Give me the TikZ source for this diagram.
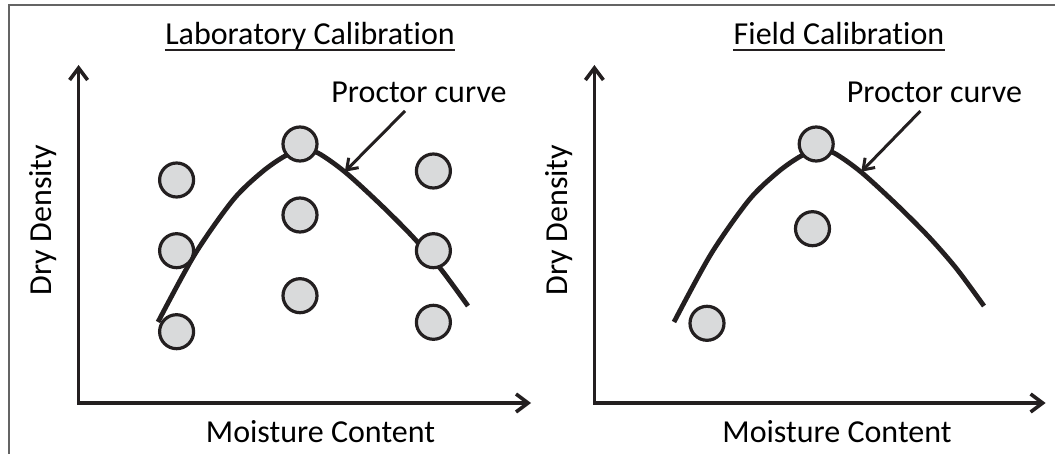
\documentclass[tikz,border=0pt]{standalone}
\usepackage{fontspec}
\setmainfont{Carlito}[Ligatures=NoCommon]
\usepackage{tikz}
\usetikzlibrary{arrows.meta}
\definecolor{pcdark}{RGB}{35,31,32}
\definecolor{pcgrey}{RGB}{217,218,219}
\definecolor{pcframe}{RGB}{100,100,100}
\tikzstyle{frame} = [line width=1pt, color=pcframe]
\tikzstyle{txt} = [inner sep=0pt, font=\fontsize{16}{18}\selectfont, text=black]
\tikzstyle{uline} = [line width=1.1pt, color=pcdark]
\tikzstyle{axis} = [line width=1.8pt, color=pcdark, arrows={Straight Barb[length=6pt,width=9pt]-Straight Barb[length=6pt,width=9pt]}]
\tikzstyle{proctor} = [line width=2.4pt, color=pcdark]
\tikzstyle{pointer} = [line width=1.5pt, color=pcdark, arrows={-Straight Barb[length=5pt,width=7pt]}]
\tikzstyle{soilpt} = [circle, draw=pcdark, line width=1.6pt, fill=pcgrey, minimum size=17pt, inner sep=0pt]

\begin{document}
\begin{tikzpicture}[x=0.5pt, y=-0.5pt]
\useasboundingbox (0,0) rectangle (1055,454);

% Frame
\draw[frame] (9,454) -- (9,5) -- (1055,5);

% Laboratory calibration
\node (labtitle) [txt, anchor=base] at (310,45) {Laboratory Calibration};
\draw[uline] ([yshift=-2.5pt]labtitle.base west) -- ([yshift=-2.5pt]labtitle.base east);

\coordinate (labo) at (78.6,403);
\coordinate (labytip) at (78.6,65);
\coordinate (labxtip) at (531,403);
\draw[axis] (labytip) -- (labo) -- (labxtip);

\node (labylab) [txt, rotate=90, anchor=base] at (51,220) {Dry Density};
\node (labxlab) [txt, anchor=base] at (320.5,442) {Moisture Content};

\draw[proctor] plot[smooth] coordinates {(158,322) (195,254) (233,200) (262,172) (285,156) (302,150) (318,153) (345,172) (380,204) (412,236) (440,268) (468,306)};

\node (lab1) [soilpt] at (176.6,180) {};
\node (lab2) [soilpt] at (176.6,250.7) {};
\node (lab3) [soilpt] at (176.6,331.7) {};
\node (lab4) [soilpt] at (300,144) {};
\node (lab5) [soilpt] at (300,215) {};
\node (lab6) [soilpt] at (300,295.7) {};
\node (lab7) [soilpt] at (433.4,171) {};
\node (lab8) [soilpt] at (433.4,250.7) {};
\node (lab9) [soilpt] at (433.4,322.3) {};

\node (labpc) [txt, anchor=base] at (419,103) {Proctor curve};
\coordinate (labhit) at (344.8,171.7);
\draw[pointer] ([xshift=-7pt,yshift=-4pt]labpc.base) -- (labhit);

% Field calibration
\node (fldtitle) [txt, anchor=base] at (839,45) {Field Calibration};
\draw[uline] ([yshift=-2.5pt]fldtitle.base west) -- ([yshift=-2.5pt]fldtitle.base east);

\coordinate (fldo) at (594.4,403);
\coordinate (fldytip) at (594.4,65);
\coordinate (fldxtip) at (1045.6,403);
\draw[axis] (fldytip) -- (fldo) -- (fldxtip);

\node (fldylab) [txt, rotate=90, anchor=base] at (567.5,220) {Dry Density};
\node (fldxlab) [txt, anchor=base] at (837,442) {Moisture Content};

\draw[proctor] plot[smooth] coordinates {(674,322) (711,254) (749,200) (778,172) (801,156) (818,150) (834,153) (861,172) (896,204) (928,236) (956,268) (984,306)};

\node (fld1) [soilpt] at (816.2,144) {};
\node (fld2) [soilpt] at (812.5,228.7) {};
\node (fld3) [soilpt] at (707,323.3) {};

\node (fldpc) [txt, anchor=base] at (934.4,103) {Proctor curve};
\coordinate (fldhit) at (861.3,171.7);
\draw[pointer] ([xshift=-7pt,yshift=-4pt]fldpc.base) -- (fldhit);
\end{tikzpicture}
\end{document}
